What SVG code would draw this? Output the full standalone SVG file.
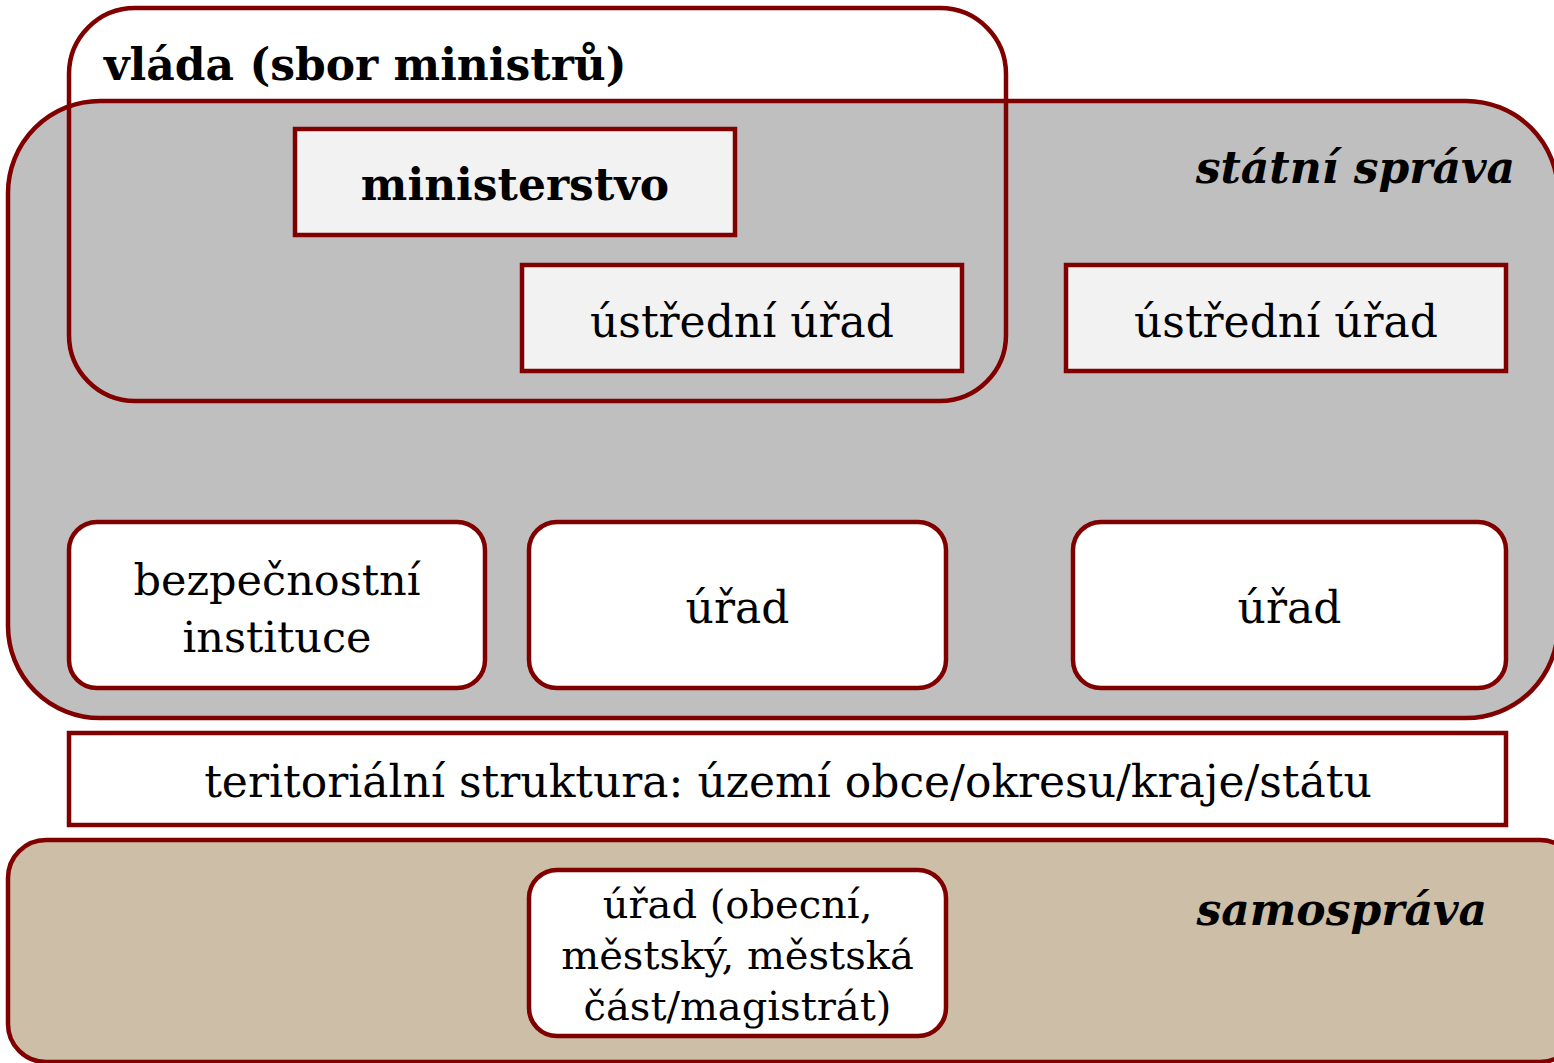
<svg xmlns="http://www.w3.org/2000/svg" width="1554" height="1063" viewBox="0 0 1554 1063">
<style>
.frame{stroke:#800000;stroke-width:4.5}
.t{font-family:"DejaVu Serif","Liberation Serif",serif;font-size:44px;fill:#000}
.c{text-anchor:middle}
.b{font-weight:bold}
.bi{font-weight:bold;font-style:italic}
.s{font-size:40px}
</style>
<rect width="1554" height="1063" fill="#ffffff"/>
<g id="statni-sprava">
<rect class="frame" x="8" y="101" width="1550" height="617" rx="92" ry="92" fill="#bfbfbf"/>
<text class="t bi" x="1515" y="183" text-anchor="end">státní správa</text>
</g>
<g id="vlada">
<rect class="frame" x="69" y="8" width="937" height="393" rx="66" ry="66" fill="none"/>
<text class="t b" x="104" y="80">vláda (sbor ministrů)</text>
</g>
<g id="ministerstvo">
<rect class="frame" x="295" y="129" width="440" height="106" fill="#f2f2f2"/>
<text class="t b c" x="515" y="200">ministerstvo</text>
</g>
<g id="ustredni-urad-1">
<rect class="frame" x="522" y="265" width="440" height="106" fill="#f2f2f2"/>
<text class="t c" x="742" y="337">ústřední úřad</text>
</g>
<g id="ustredni-urad-2">
<rect class="frame" x="1066" y="265" width="440" height="106" fill="#f2f2f2"/>
<text class="t c" x="1286" y="337">ústřední úřad</text>
</g>
<g id="bezpecnostni-instituce">
<rect class="frame" x="69" y="522" width="416" height="166" rx="28" ry="28" fill="#ffffff"/>
<text class="t c" x="277" y="595" style="font-size:43px">bezpečnostní</text>
<text class="t c" x="277" y="652" style="font-size:43px">instituce</text>
</g>
<g id="urad-1">
<rect class="frame" x="529" y="522" width="417" height="166" rx="28" ry="28" fill="#ffffff"/>
<text class="t c" x="737.5" y="623">úřad</text>
</g>
<g id="urad-2">
<rect class="frame" x="1073" y="522" width="433" height="166" rx="28" ry="28" fill="#ffffff"/>
<text class="t c" x="1289.5" y="623">úřad</text>
</g>
<g id="teritorialni-struktura">
<rect class="frame" x="69" y="733" width="1437" height="92" fill="#ffffff"/>
<text class="t c" x="788" y="797">teritoriální struktura: území obce/okresu/kraje/státu</text>
</g>
<g id="samosprava">
<rect class="frame" x="8" y="840" width="1570" height="222" rx="38" ry="38" fill="#cdbea8"/>
<text class="t bi" x="1487" y="925" text-anchor="end">samospráva</text>
</g>
<g id="urad-obecni">
<rect class="frame" x="529" y="870" width="417" height="166" rx="28" ry="28" fill="#ffffff"/>
<text class="t c s" x="737.5" y="918">úřad (obecní,</text>
<text class="t c s" x="737.5" y="969">městský, městská</text>
<text class="t c s" x="737.5" y="1020">část/magistrát)</text>
</g>
<g id="connectors"></g>
</svg>
